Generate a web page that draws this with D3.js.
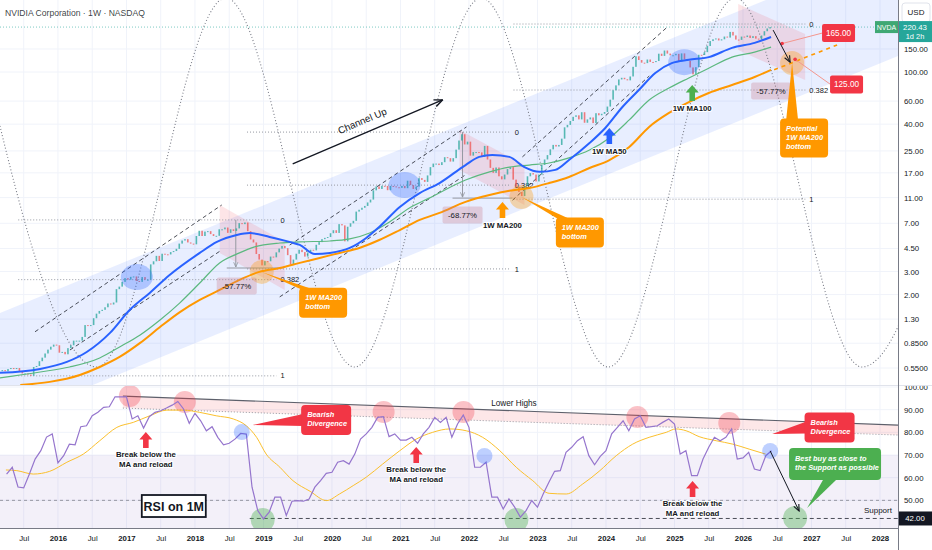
<!DOCTYPE html>
<html>
<head>
<meta charset="utf-8">
<script src="https://cdn.jsdelivr.net/npm/d3@7"></script>
<style>
  body { margin: 0; background: #fff; }
  svg { display: block; font-family: "Liberation Sans", Arial, sans-serif; }
</style>
</head>
<body>
<svg id="chart" width="932" height="550"></svg>
<script>
// ---------- data ----------
// two closes a month, first one is early March 2015
const closeStartYear = 2015;
const closeStartMonth = 2;
const closes = [
  // 2015
  0.53,0.52,0.54,0.55,0.54,0.55,0.52,0.50,0.50,0.49,0.48,0.56,0.57,0.62,0.66,0.71,0.76,0.80,0.83,0.82,
  // 2016
  0.72,0.73,0.70,0.78,0.82,0.89,0.89,0.89,0.95,1.17,1.15,1.17,1.32,1.43,1.50,1.53,1.60,1.71,1.68,1.74,2.20,2.30,2.50,2.67,
  // 2017
  2.60,2.73,2.75,2.54,2.50,2.72,2.60,2.60,3.40,3.59,3.95,3.61,4.10,4.06,4.05,4.22,4.30,4.47,4.90,5.17,5.30,5.00,4.90,4.84,
  // 2018
  5.60,6.14,5.60,6.05,6.10,5.79,5.60,5.62,6.30,6.30,6.50,5.92,6.30,6.12,6.40,7.02,6.90,7.10,6.10,5.27,5.00,4.08,3.70,3.34,
  // 2019
  3.60,3.59,3.90,3.85,4.20,4.49,4.70,4.52,4.00,3.39,3.70,4.10,4.40,4.22,3.90,4.19,4.40,4.35,4.80,5.03,5.30,5.42,5.50,5.88,
  // 2020
  6.20,5.91,6.90,6.75,5.10,6.59,7.00,7.31,8.60,8.88,9.20,9.50,10.10,10.62,12.50,13.38,12.80,13.53,13.50,12.53,13.50,13.40,13.20,13.05,
  // 2021
  13.50,12.98,14.80,13.71,12.80,13.35,15.50,15.01,14.50,16.25,18.80,20.00,20.00,19.50,20.50,22.38,22.00,20.72,22.00,25.56,30.00,33.50,28.00,29.41,
  // 2022
  23.00,24.49,24.50,24.37,22.50,27.29,21.50,18.55,17.00,18.67,16.00,15.16,16.50,18.16,18.80,15.09,13.30,12.14,11.30,13.50,16.00,16.92,16.50,14.61,
  // 2023
  16.50,19.52,21.50,23.22,25.70,27.78,27.00,27.75,31.00,37.83,39.50,42.30,45.50,46.73,43.50,49.35,41.00,43.50,45.00,40.78,48.50,46.77,48.00,49.52,
  // 2024
  54.50,61.53,72.60,79.11,87.80,90.36,88.10,86.40,92.50,109.6,131.9,123.5,117.9,117.0,124.6,119.4,119.1,121.4,138.0,132.8,146.0,138.3,134.3,134.3,
  // 2025
  137.7,120.1,138.8,124.9,121.7,108.4,96.0,108.9,135.4,135.1,141.9,158.0,172.4,177.9,180.5,174.2,177.8,186.6,183.2,202.5,190.2,177.0,176.0,186.5,
  // 2026
  185,190,182,188,180,178,190,205,215,220.43
];
const lastPrice = 220.43;

// weekly moving averages [year, price]
const ma50 = [[2015.15,0.505],[2015.74,0.541],[2016.13,0.612],[2016.42,0.729],[2016.76,1.02],[2017.05,1.53],[2017.34,2.06],
  [2017.63,2.82],[2018.07,4.16],[2018.32,5.05],[2018.61,5.70],[2018.80,5.90],[2019.09,5.51],[2019.38,5.05],[2019.53,4.79],
  [2019.75,4.08],[2019.97,4.16],[2020.26,4.54],[2020.50,5.41],[2020.69,6.56],[2020.99,9.33],[2021.28,11.9],[2021.57,14.2],
  [2021.95,19.5],[2022.15,22.5],[2022.34,23.3],[2022.59,22.5],[2022.81,18.8],[2023.03,17.3],[2023.26,17.9],[2023.46,21.3],
  [2023.76,28.7],[2023.99,37.4],[2024.24,54.1],[2024.48,72.9],[2024.72,98.4],[2024.96,117],[2025.21,124],[2025.50,130],
  [2025.84,153],[2026.17,167],[2026.41,185]];
const ma100 = [[2015.15,0.462],[2015.74,0.513],[2016.17,0.560],[2016.61,0.656],[2016.90,0.796],[2017.20,0.984],[2017.49,1.28],
  [2017.78,1.73],[2018.07,2.45],[2018.36,3.49],[2018.65,4.16],[2018.87,4.62],[2019.24,4.95],[2019.53,5.05],[2019.97,5.13],
  [2020.26,5.32],[2020.55,5.91],[2020.84,7.16],[2021.13,9.16],[2021.42,10.9],[2021.95,15.0],[2022.30,17.3],[2022.59,18.8],
  [2022.88,19.5],[2023.17,20.2],[2023.46,22.1],[2023.76,25.4],[2024.05,31.4],[2024.34,43.1],[2024.63,61.2],[2024.92,75.5],
  [2025.21,90.1],[2025.50,107],[2025.84,130],[2026.17,142],[2026.41,155]];
const ma200 = [[2015.45,0.408],[2015.88,0.431],[2016.32,0.487],[2016.61,0.560],[2016.90,0.668],[2017.20,0.855],[2017.49,1.13],
  [2017.78,1.47],[2018.07,1.82],[2018.36,2.17],[2018.65,2.59],[2018.94,2.98],[2019.24,3.19],[2019.53,3.49],[2019.82,3.81],
  [2020.11,4.16],[2020.40,4.54],[2020.69,5.22],[2020.99,6.22],[2021.28,7.43],[2021.57,8.40],[2021.95,10.2],[2022.30,11.5],
  [2022.59,12.4],[2022.88,13.0],[2023.17,14.2],[2023.46,15.8],[2023.76,18.5],[2024.05,21.3],[2024.34,26.8],[2024.63,38.1],
  [2024.92,48.7],[2025.21,59.0],[2025.50,69.2],[2025.84,79.6],[2026.17,91.6],[2026.41,104]];
const ma200Projection = [[2026.455,104],[2027.374,161]];

// monthly RSI, first value April 2015
const rsiStart = 2015.25;
const rsiValues = [
  61.6,64.6,55.9,55.5,61.6,68.2,71.9,77.9,79.3,66.5,69.7,74.8,74.5,82.5,82.9,87.3,88.9,91.0,91.3,95.7,
  95.6,95.7,85.9,87.3,81.9,86.9,88.8,89.5,90.7,92.0,93.6,90.3,84.0,88.4,85.1,80.7,82.5,77.8,74.5,75.2,
  77.0,79.5,79.2,55.8,45.5,41.8,44.8,51.4,51.4,43.3,49.6,49.9,49.6,50.6,55.8,58.7,61.9,62.4,66.8,67.5,
  66.0,70.4,77.0,79.3,82.2,86.6,86.9,78.1,79.3,76.6,76.6,77.8,75.2,79.3,82.2,86.6,84.4,86.6,77.8,83.7,
  87.6,82.2,64.6,64.6,66.8,51.4,51.4,46.2,50.6,47.0,42.6,45.5,49.9,47.0,52.8,58.0,62.8,63.1,71.2,73.4,
  76.3,78.1,69.7,65.7,69.4,71.9,79.3,82.2,85.1,80.7,85.9,87.3,82.2,82.5,82.9,84.5,85.9,83.7,70.4,71.9,
  60.9,60.9,68.2,73.4,77.8,76.3,77.8,81.5,68.2,68.7,71.2,63.8,63.1,69.7,71.9
];
const rsiMa = [[2015.24,63.4],[2015.40,63.1],[2015.64,61.6],[2015.88,62.8],[2016.13,66.8],[2016.37,70.4],[2016.61,76.3],
  [2016.86,82.2],[2017.10,84.4],[2017.34,87.3],[2017.59,89.8],[2017.83,89.8],[2018.07,88.8],[2018.31,87.3],[2018.56,85.9],
  [2018.75,82.9],[2018.90,77.8],[2019.04,70.4],[2019.24,64.6],[2019.43,58.7],[2019.68,54.0],[2019.92,49.9],[2020.11,52.8],
  [2020.31,56.5],[2020.50,60.2],[2020.74,66.0],[2020.99,71.9],[2021.23,77.0],[2021.47,80.0],[2021.72,81.5],[2021.96,80.7],
  [2022.20,77.8],[2022.45,71.9],[2022.69,64.6],[2022.93,58.7],[2023.17,53.1],[2023.42,52.8],[2023.66,57.2],[2023.90,62.8],
  [2024.15,69.7],[2024.39,74.8],[2024.63,77.8],[2024.88,80.0],[2025.02,81.5],[2025.17,80.7],[2025.36,78.1],[2025.61,76.3],
  [2025.85,74.8],[2026.09,72.6],[2026.33,70.4]];

// axes
const priceTicks = [150, 100, 60, 40, 25, 17, 11, 7, 4.5, 3, 2, 1.3, 0.85, 0.55];
const rsiTicks = [100, 90, 80, 70, 60, 50];
const yearTicks = d3.range(2016, 2029);
const julTicks = d3.range(2015, 2028).map(v => v + 0.5);

// drawings on the price pane
const channelUpper = [[2015.154, 1.449], [2028.263, 916]];
const channelLower = [[2015.154, 0.2094], [2028.263, 132.6]];
const cycleTurns = [[2014.717,367],[2016.569,0.56],[2018.45,367],[2020.331,0.56],[2022.183,367],
  [2024.034,0.56],[2025.886,367],[2027.738,0.56],[2029.59,367]];
const fibs = [ // start, end, level 0, level 0.382, level 1
  [2015.42, 2019.19, 7.43, 2.60, 0.479],
  [2018.76, 2022.61, 34.8, 13.7, 3.14],
  [2022.65, 2026.91, 232.6, 72.9, 10.7]
];
const fibNames = ["0", "0.382", "1"];
const trendLines = [
  [[2015.665, 1.04], [2018.391, 9.66]], [[2016.175, 0.755], [2018.391, 4.38]],
  [[2019.383, 4.78], [2021.964, 38.1]], [[2019.237, 1.92], [2021.949, 16.4]],
  [[2022.78, 22.5], [2024.88, 217]], [[2022.635, 10.5], [2024.632, 93.3]]
];
const dropZones = [
  [[2018.362, 9.66], [2019.31, 5.04], [2019.31, 2.17], [2018.362, 4.16]],
  [[2021.862, 36.1], [2022.81, 19.5], [2022.81, 9.66], [2021.862, 17.9]],
  [[2025.93, 330], [2026.907, 195], [2026.907, 86.9], [2025.93, 147]]
];
const dropRanges = [ // year, from price, to price, base line from, base line to
  [2018.596, 7.43, 3.19, 2018.464, 2019.281],
  [2021.906, 34.8, 10.9, 2021.76, 2022.635]
];
const dropLabels = [[2018.61, 2.33, "-57.77%"], [2021.906, 8.1, "-68.77%"], [2026.411, 71.6, "-57.77%"]];
const ma200Touches = [[2018.975, 2.98], [2022.766, 11.1], [2026.717, 117]];
const consolidations = [[2017.152, 2.72], [2021.06, 13.7], [2025.143, 119]];
const maArrows = [[2022.489, 10.2, "1W MA200"], [2024.049, 37.4, "1W MA50"], [2025.259, 79.6, "1W MA100"]];
const bottomCallouts = [
  [2019.871, 1.73, 2018.975, 2.98, ["1W MA200", "bottom"]],
  [2023.619, 5.96, 2022.766, 11.1, ["1W MA200", "bottom"]],
  [2026.892, 31.4, 2026.717, 117, ["Potential", "1W MA200", "bottom"]]
];
const targetTags = [[2026.572, 165, 2027.395, 198.6, "165.00"], [2026.761, 125, 2027.512, 80.4, "125.00"]];
const dropArrow = [[2026.44, 209], [2026.688, 119]];
const channelArrow = [[2019.427, 19.9], [2021.614, 61.2]];
const channelText = [2020.462, 40.1, "Channel Up"];

// drawings on the RSI pane
const lowerHighs = [[2016.948, 96.0], [2028.263, 83.2]];
const lowerHighsBase = [[2016.948, 90.7], [2028.263, 78.8]];
const rsiPeaks = [[2017.05,96.0],[2017.852,93.4],[2020.754,89.0],[2021.92,89.0],[2024.458,86.8],[2025.8,84.1]];
const rsiDips = [[2018.683,80.1],[2022.226,69.6],[2026.397,71.8]];
const rsiLows = [[2018.989,41.3],[2022.693,41.3],[2026.761,42.2]];
const reloadArrows = [[2017.283,80.1],[2021.23,73.5],[2025.264,58.5]];
const supportLevel = 42;
const supportFrom = 2018.8;
const divergenceCallouts = [[2019.915, 85.4, 2018.843, 83.2], [2027.264, 82.1, 2026.426, 79.3]];
const buyCallout = [2027.344, 66.0, 2026.936, 46.6];
const rsiDropArrow = [[2026.397, 71.8], [2026.819, 45.3]];

// ---------- layout ----------
const W = 932, H = 550;
const plotR = 898, mainB = 385, rsiT = 386, rsiB = 528;
const INK = "#131722";
const GRID = "#f0f3fa";

const x = d3.scaleLinear().domain([2015.154, 2028.263]).range([0, plotR]);
const y = d3.scaleLog().domain([0.408, 354.8]).range([mainB, 0]);
const yR = d3.scaleLinear().domain([37.8, 100]).range([rsiB, 387]);
const P = d => [x(d[0]), y(d[1])];
const R = d => [x(d[0]), yR(d[1])];

const svg = d3.select("#chart");
const defs = svg.append("defs");
defs.append("clipPath").attr("id", "clipMain")
  .append("rect").attr("width", plotR).attr("height", mainB);
defs.append("clipPath").attr("id", "clipRsi")
  .append("rect").attr("y", rsiT).attr("width", plotR).attr("height", rsiB - rsiT);
defs.append("clipPath").attr("id", "clipRsiAxis")
  .append("rect").attr("x", plotR).attr("y", rsiT).attr("width", W - plotR).attr("height", rsiB - rsiT);
defs.append("marker").attr("id", "head")
  .attr("viewBox", "0 0 10 10").attr("refX", 9).attr("refY", 5)
  .attr("markerWidth", 8).attr("markerHeight", 8).attr("orient", "auto")
  .append("path").attr("d", "M1,1.5 L9,5 L1,8.5").attr("fill", "none")
  .attr("stroke", INK).attr("stroke-width", 1.4);
defs.append("marker").attr("id", "headGray")
  .attr("viewBox", "0 0 10 10").attr("refX", 9).attr("refY", 5)
  .attr("markerWidth", 6).attr("markerHeight", 6).attr("orient", "auto")
  .append("path").attr("d", "M1,1.5 L9,5 L1,8.5").attr("fill", "none")
  .attr("stroke", "#9598a1").attr("stroke-width", 1.4);

svg.append("rect").attr("width", W).attr("height", H).attr("fill", "#fff");

// grid
const allX = [...yearTicks, ...julTicks];
svg.append("g").selectAll("line").data(allX).join("line")
  .attr("x1", d => x(d)).attr("x2", d => x(d)).attr("y1", 0).attr("y2", rsiB)
  .attr("stroke", GRID);
svg.append("g").selectAll("line").data(priceTicks).join("line")
  .attr("x1", 0).attr("x2", plotR).attr("y1", d => y(d)).attr("y2", d => y(d))
  .attr("stroke", GRID);
svg.append("g").selectAll("line").data(rsiTicks).join("line")
  .attr("x1", 0).attr("x2", plotR).attr("y1", d => yR(d)).attr("y2", d => yR(d))
  .attr("stroke", GRID);

// ---------- price pane ----------
const main = svg.append("g").attr("clip-path", "url(#clipMain)");
const straight = d3.line().x(d => P(d)[0]).y(d => P(d)[1]);
const smooth = d3.line().x(d => P(d)[0]).y(d => P(d)[1]).curve(d3.curveMonotoneX);

main.append("path")
  .attr("d", straight([...channelUpper, ...channelLower.slice().reverse()]) + "Z")
  .attr("fill", "rgba(41,98,255,0.11)");

main.selectAll(".zone").data(dropZones).join("path")
  .attr("class", "zone")
  .attr("d", d => straight(d) + "Z")
  .attr("fill", "rgba(242,54,69,0.13)");

main.append("path").attr("d", smooth(cycleTurns))
  .attr("fill", "none").attr("stroke", "#787b86").attr("stroke-width", 1.1)
  .attr("stroke-dasharray", "1 2.2");

// fib levels
fibs.forEach(f => {
  const g = main.append("g");
  [f[2], f[3], f[4]].forEach((lvl, i) => {
    g.append("line")
      .attr("x1", x(f[0])).attr("x2", x(f[1])).attr("y1", y(lvl)).attr("y2", y(lvl))
      .attr("stroke", "#9598a1").attr("stroke-dasharray", "1 2");
    g.append("text")
      .attr("x", x(f[1]) + 4).attr("y", y(lvl)).attr("dy", "0.35em")
      .attr("font-size", 7.5).attr("fill", INK).text(fibNames[i]);
  });
});

main.selectAll(".trend").data(trendLines).join("path")
  .attr("class", "trend")
  .attr("d", straight)
  .attr("fill", "none").attr("stroke", INK).attr("stroke-opacity", 0.75)
  .attr("stroke-dasharray", "4 3");

// price ranges
dropRanges.forEach(r => {
  main.append("line")
    .attr("x1", x(r[3])).attr("x2", x(r[4])).attr("y1", y(r[2])).attr("y2", y(r[2]))
    .attr("stroke", "#9598a1");
  main.append("line")
    .attr("x1", x(r[0])).attr("x2", x(r[0])).attr("y1", y(r[1])).attr("y2", y(r[2]) - 1)
    .attr("stroke", "#9598a1").attr("marker-end", "url(#headGray)");
});

// candles
const candles = closes.map((c, i) => {
  const m = closeStartMonth + Math.floor(i / 2);
  return { t: closeStartYear + (m + (i % 2 ? 0.75 : 0.25)) / 12, o: i ? closes[i - 1] : c, c };
});
main.append("g").selectAll("rect").data(candles).join("rect")
  .attr("x", d => x(d.t) - 0.8).attr("width", 1.6)
  .attr("y", d => y(Math.max(d.o, d.c)))
  .attr("height", d => Math.max(1, Math.abs(y(d.o) - y(d.c))))
  .attr("fill", d => d.c >= d.o ? "#26a69a" : "#ef5350")
  .attr("opacity", 0.75);

// moving averages
main.append("path").attr("d", smooth(ma200)).attr("fill", "none")
  .attr("stroke", "#ff9800").attr("stroke-width", 2);
main.append("path").attr("d", straight(ma200Projection)).attr("fill", "none")
  .attr("stroke", "#ff9800").attr("stroke-width", 1.6).attr("stroke-dasharray", "4 4");
main.append("path").attr("d", smooth(ma100)).attr("fill", "none")
  .attr("stroke", "#5cb87f").attr("stroke-width", 1.2);
main.append("path").attr("d", smooth(ma50)).attr("fill", "none")
  .attr("stroke", "#2962ff").attr("stroke-width", 2);

// current price line
main.append("line").attr("x1", 0).attr("x2", plotR).attr("y1", y(lastPrice)).attr("y2", y(lastPrice))
  .attr("stroke", "#26a69a").attr("stroke-opacity", 0.6).attr("stroke-dasharray", "1 2");

// circles
main.selectAll(".blob").data(consolidations).join("ellipse")
  .attr("class", "blob")
  .attr("cx", d => P(d)[0]).attr("cy", d => P(d)[1]).attr("rx", 16).attr("ry", 13)
  .attr("fill", "rgba(41,98,255,0.3)");
main.selectAll(".touch").data(ma200Touches).join("circle")
  .attr("class", "touch")
  .attr("cx", d => P(d)[0]).attr("cy", d => P(d)[1]).attr("r", 12)
  .attr("fill", "rgba(255,152,0,0.32)");

// drop % labels
dropLabels.forEach(d => {
  const [cx, cy] = P(d);
  main.append("rect").attr("x", cx - 20).attr("y", cy - 8.5).attr("width", 40).attr("height", 17)
    .attr("rx", 2).attr("fill", "rgba(200,120,135,0.3)");
  main.append("text").attr("x", cx).attr("y", cy).attr("dy", "0.35em")
    .attr("text-anchor", "middle").attr("font-size", 7.8).attr("fill", INK).text(d[2]);
});

// fat up arrows
function upArrow(g, tx, ty, fill) {
  g.append("path")
    .attr("d", `M${tx},${ty} L${tx + 6.5},${ty + 7.5} L${tx + 2.8},${ty + 7.5} L${tx + 2.8},${ty + 16}
      L${tx - 2.8},${ty + 16} L${tx - 2.8},${ty + 7.5} L${tx - 6.5},${ty + 7.5} Z`)
    .attr("fill", fill);
}
const maArrowColors = ["#ff9800", "#2962ff", "#4caf50"];
maArrows.forEach((a, i) => {
  const [tx, ty] = P(a);
  upArrow(main, tx, ty, maArrowColors[i]);
  main.append("text").attr("x", tx).attr("y", ty + 26).attr("text-anchor", "middle")
    .attr("font-size", 7.8).attr("font-weight", "bold").attr("fill", INK)
    .attr("stroke", "#fff").attr("stroke-width", 2).attr("paint-order", "stroke")
    .text(a[2]);
});

// callout boxes with a wedge
function callout(g, cx, cy, w, h, wedge, fill, lines, fs) {
  g.append("path").attr("d", `M${wedge[0][0]},${wedge[0][1]} L${wedge[1][0]},${wedge[1][1]} L${wedge[2][0]},${wedge[2][1]} Z`)
    .attr("fill", fill);
  g.append("rect").attr("x", cx - w / 2).attr("y", cy - h / 2).attr("width", w).attr("height", h)
    .attr("rx", 4).attr("fill", fill);
  const lh = fs + 1.6;
  const top = cy - (lines.length * lh) / 2 + fs * 0.85;
  lines.forEach((t, i) => {
    g.append("text").attr("x", cx - w / 2 + 6).attr("y", top + i * lh)
      .attr("font-size", fs).attr("font-weight", "bold").attr("font-style", "italic")
      .attr("fill", "#fff").text(t);
  });
}
bottomCallouts.forEach(c => {
  const [cx, cy] = P(c);
  const [tx, ty] = P([c[2], c[3]]);
  const w = 48, h = 12 + 9 * c[4].length;
  const left = cx - w / 2, topY = cy - h / 2;
  const bx = Math.max(left + 9, Math.min(left + w - 9, tx));
  callout(main, cx, cy, w, h, [[tx, ty], [bx - 6, topY + 2], [bx + 6, topY + 2]], "#ff9800", c[4], 7.4);
});

// red target tags
targetTags.forEach(t => {
  const [dx, dy] = P(t);
  const [cx, cy] = P([t[2], t[3]]);
  main.append("line").attr("x1", dx).attr("y1", dy).attr("x2", cx - 16).attr("y2", cy)
    .attr("stroke", "#f4978e").attr("stroke-width", 1);
  main.append("circle").attr("cx", dx).attr("cy", dy).attr("r", 1.8).attr("fill", "#f23645");
  main.append("rect").attr("x", cx - 16.5).attr("y", cy - 9).attr("width", 33).attr("height", 18)
    .attr("rx", 2).attr("fill", "#f23645");
  main.append("text").attr("x", cx).attr("y", cy).attr("dy", "0.35em").attr("text-anchor", "middle")
    .attr("font-size", 8.2).attr("fill", "#fff").text(t[4]);
});

main.append("path").attr("d", straight(dropArrow)).attr("fill", "none")
  .attr("stroke", INK).attr("stroke-width", 1).attr("marker-end", "url(#head)");

// channel up arrow and text
main.append("path").attr("d", straight(channelArrow)).attr("fill", "none")
  .attr("stroke", INK).attr("stroke-width", 1.3).attr("marker-end", "url(#head)");
{
  const a = P(channelArrow[0]), b = P(channelArrow[1]);
  const ang = Math.atan2(b[1] - a[1], b[0] - a[0]) * 180 / Math.PI;
  const [tx, ty] = P(channelText);
  main.append("text").attr("transform", `translate(${tx},${ty}) rotate(${ang})`)
    .attr("text-anchor", "middle").attr("font-size", 9.8).attr("fill", INK).text(channelText[2]);
}

// title
svg.append("text").attr("x", 5).attr("y", 16).attr("font-size", 8.6).attr("fill", INK)
  .attr("fill-opacity", 0.85).text("NVIDIA Corporation · 1W · NASDAQ");

// ---------- RSI pane ----------
const rsi = svg.append("g").attr("clip-path", "url(#clipRsi)");
const rLine = d3.line().x(d => R(d)[0]).y(d => R(d)[1]);

rsi.append("rect").attr("x", 0).attr("width", plotR)
  .attr("y", yR(70)).attr("height", rsiB - yR(70)).attr("fill", "rgba(126,87,194,0.09)");
rsi.append("line").attr("x1", 0).attr("x2", plotR).attr("y1", yR(50)).attr("y2", yR(50))
  .attr("stroke", "#9598a1").attr("stroke-dasharray", "3 3");

rsi.append("path").attr("d", rLine([...lowerHighs, ...lowerHighsBase.slice().reverse()]) + "Z")
  .attr("fill", "rgba(242,54,69,0.12)");
rsi.append("path").attr("d", rLine(lowerHighsBase)).attr("fill", "none")
  .attr("stroke", "#9598a1").attr("stroke-dasharray", "1 2");
rsi.append("path").attr("d", rLine(lowerHighs)).attr("fill", "none")
  .attr("stroke", "#5d606b").attr("stroke-width", 1.2);

rsi.append("line").attr("x1", x(supportFrom)).attr("x2", plotR)
  .attr("y1", yR(supportLevel)).attr("y2", yR(supportLevel))
  .attr("stroke", INK).attr("stroke-opacity", 0.75).attr("stroke-dasharray", "4 3");

rsi.selectAll(".peak").data(rsiPeaks).join("circle").attr("class", "peak")
  .attr("cx", d => R(d)[0]).attr("cy", d => R(d)[1]).attr("r", 11)
  .attr("fill", "rgba(242,54,69,0.3)");
rsi.selectAll(".low").data(rsiLows).join("circle").attr("class", "low")
  .attr("cx", d => R(d)[0]).attr("cy", d => R(d)[1]).attr("r", 12)
  .attr("fill", "rgba(76,175,80,0.4)");

rsi.append("path")
  .attr("d", d3.line().x(d => x(d[0])).y(d => yR(d[1])).curve(d3.curveMonotoneX)(rsiMa))
  .attr("fill", "none").attr("stroke", "#fbc02d").attr("stroke-width", 1);
rsi.append("path")
  .attr("d", rLine(rsiValues.map((v, i) => [rsiStart + i / 12, v])))
  .attr("fill", "none").attr("stroke", "#9575cd").attr("stroke-width", 1.2);

rsi.selectAll(".dip").data(rsiDips).join("circle").attr("class", "dip")
  .attr("cx", d => R(d)[0]).attr("cy", d => R(d)[1]).attr("r", 8)
  .attr("fill", "rgba(41,98,255,0.3)");

reloadArrows.forEach(a => {
  const [tx, ty] = R(a);
  upArrow(rsi, tx, ty, "#f23645");
  ["Break below the", "MA and reload"].forEach((t, i) => {
    rsi.append("text").attr("x", tx).attr("y", ty + 25 + i * 9.5).attr("text-anchor", "middle")
      .attr("font-size", 7.8).attr("font-weight", "bold").attr("fill", INK)
      .attr("stroke", "#fff").attr("stroke-width", 2).attr("paint-order", "stroke").text(t);
  });
});

divergenceCallouts.forEach(c => {
  const [cx, cy] = R(c);
  const [tx, ty] = R([c[2], c[3]]);
  const left = cx - 25;
  callout(rsi, cx, cy, 50, 30, [[tx, ty], [left + 2, cy - 6], [left + 2, cy + 6]], "#f23645",
    ["Bearish", "Divergence"], 7.4);
});
{
  const [cx, cy] = R(buyCallout);
  const [tx, ty] = R([buyCallout[2], buyCallout[3]]);
  const bottom = cy + 16;
  callout(rsi, cx, cy, 92, 32, [[tx, ty], [tx + 17, bottom - 2], [tx + 31, bottom - 2]], "#4caf50",
    ["Best buy as close to", "the Support as possible"], 7.4);
}
rsi.append("path").attr("d", rLine(rsiDropArrow)).attr("fill", "none")
  .attr("stroke", INK).attr("stroke-width", 1).attr("marker-end", "url(#head)");

{
  const cx = x(2017.691), cy = yR(47.5);
  rsi.append("rect").attr("x", cx - 32).attr("y", cy - 11).attr("width", 64).attr("height", 22)
    .attr("fill", "#fff").attr("stroke", INK).attr("stroke-width", 1.8);
  rsi.append("text").attr("x", cx).attr("y", cy).attr("dy", "0.36em").attr("text-anchor", "middle")
    .attr("font-size", 12.5).attr("font-weight", "bold").attr("fill", INK).text("RSI on 1M");
}
rsi.append("text").attr("x", x(2022.656)).attr("y", yR(92.9)).attr("dy", "0.35em")
  .attr("text-anchor", "middle").attr("font-size", 8.2).attr("fill", INK).text("Lower Highs");
rsi.append("text").attr("x", x(2028.175)).attr("y", yR(45.7)).attr("dy", "0.35em")
  .attr("text-anchor", "end").attr("font-size", 8).attr("fill", INK).text("Support");

// ---------- axes ----------
svg.append("line").attr("x1", 0).attr("x2", W).attr("y1", mainB + 0.5).attr("y2", mainB + 0.5)
  .attr("stroke", "#e0e3eb");
svg.append("line").attr("x1", plotR + 0.5).attr("x2", plotR + 0.5).attr("y1", 0).attr("y2", H)
  .attr("stroke", "#787b86");
svg.append("line").attr("x1", 0).attr("x2", plotR).attr("y1", rsiB + 0.5).attr("y2", rsiB + 0.5)
  .attr("stroke", "#787b86");

const priceAxis = svg.append("g").attr("transform", `translate(${plotR},0)`)
  .call(d3.axisRight(y).tickValues(priceTicks).tickSize(0).tickPadding(6)
    .tickFormat(v => v < 1 ? v.toFixed(4) : v.toFixed(2)));
const rsiAxis = svg.append("g").attr("clip-path", "url(#clipRsiAxis)")
  .append("g").attr("transform", `translate(${plotR},0)`)
  .call(d3.axisRight(yR).tickValues(rsiTicks).tickSize(0).tickPadding(6).tickFormat(v => v.toFixed(2)));
const timeAxis = svg.append("g").attr("transform", `translate(0,${rsiB})`)
  .call(d3.axisBottom(x).tickValues(allX).tickSize(0).tickPadding(7)
    .tickFormat(v => Number.isInteger(v) ? String(v) : "Jul"));

[priceAxis, rsiAxis, timeAxis].forEach(a => {
  a.select(".domain").remove();
  a.selectAll("text").attr("font-size", 7.8).attr("fill", INK)
    .attr("font-family", '"Liberation Sans", Arial, sans-serif');
});
timeAxis.selectAll("text").attr("font-weight", d => Number.isInteger(d) ? "bold" : "normal");

// axis tags
svg.append("rect").attr("x", 902).attr("y", 3).attr("width", 28).attr("height", 19).attr("rx", 3)
  .attr("fill", "#fff").attr("stroke", "#e0e3eb");
svg.append("text").attr("x", 916).attr("y", 12.5).attr("dy", "0.35em").attr("text-anchor", "middle")
  .attr("font-size", 8).attr("fill", INK).text("USD");
{
  const py = y(lastPrice);
  svg.append("rect").attr("x", 875).attr("y", py - 6).attr("width", 23).attr("height", 12)
    .attr("fill", "#3fa874");
  svg.append("text").attr("x", 886.5).attr("y", py).attr("dy", "0.35em").attr("text-anchor", "middle")
    .attr("font-size", 7).attr("fill", "#fff").text("NVDA");
  svg.append("rect").attr("x", plotR + 1).attr("y", py - 6).attr("width", W - plotR - 1).attr("height", 21)
    .attr("fill", "#26a69a");
  svg.append("text").attr("x", 915).attr("y", py).attr("dy", "0.35em").attr("text-anchor", "middle")
    .attr("font-size", 7.8).attr("fill", "#fff").text(lastPrice.toFixed(2));
  svg.append("text").attr("x", 915).attr("y", py + 9.5).attr("dy", "0.35em").attr("text-anchor", "middle")
    .attr("font-size", 7.4).attr("fill", "#fff").text("1d 2h");
}
{
  const sy = yR(supportLevel);
  svg.append("rect").attr("x", plotR + 1).attr("y", sy - 7).attr("width", W - plotR - 1).attr("height", 14)
    .attr("fill", INK);
  svg.append("text").attr("x", 915).attr("y", sy).attr("dy", "0.35em").attr("text-anchor", "middle")
    .attr("font-size", 7.8).attr("fill", "#fff").text(supportLevel.toFixed(2));
}
</script>
</body>
</html>
